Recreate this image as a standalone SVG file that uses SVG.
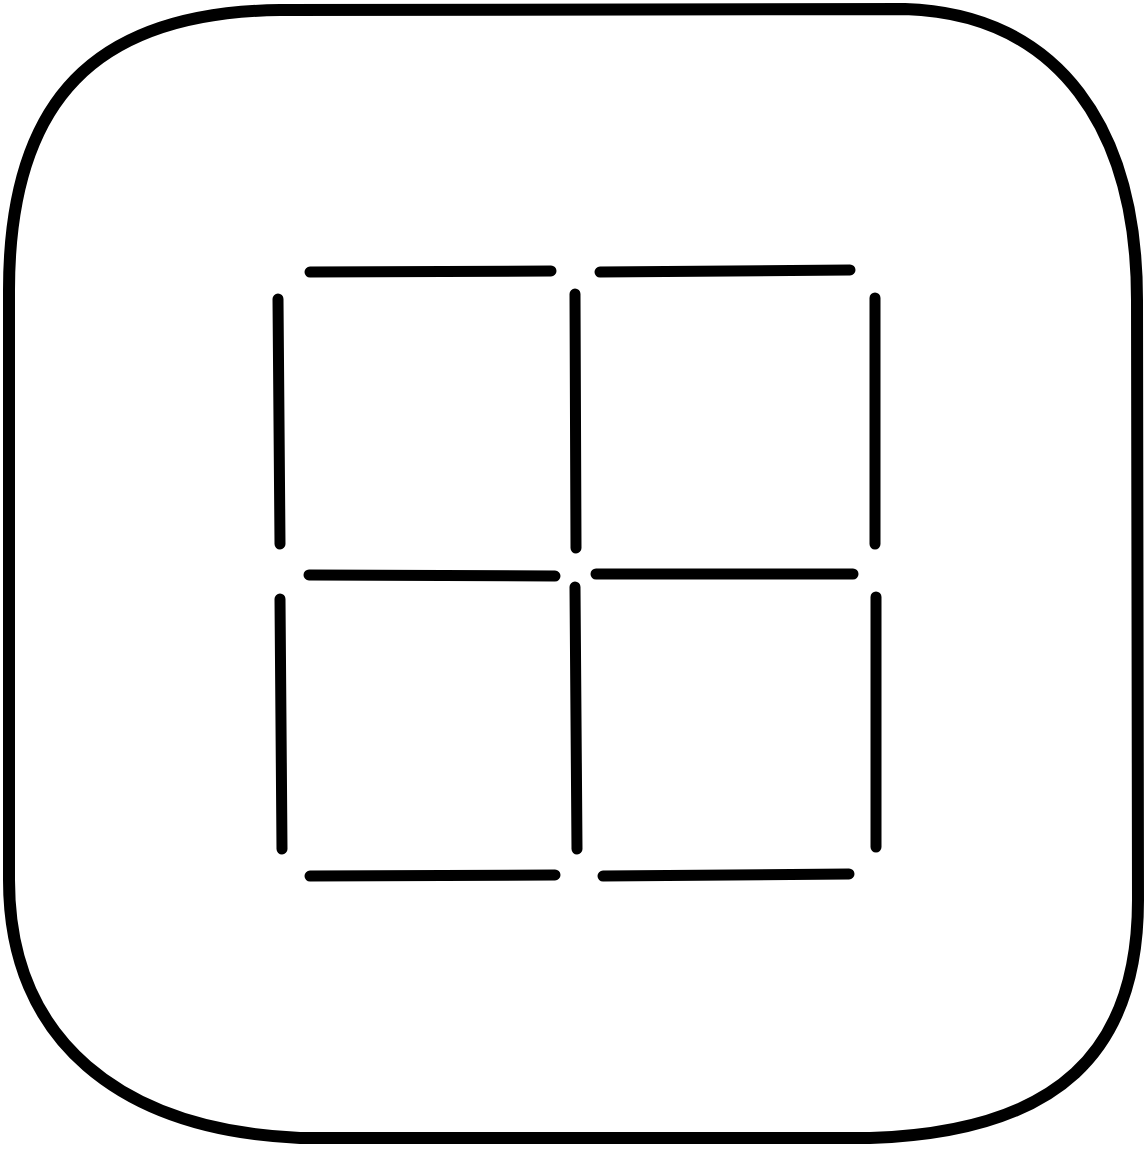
<svg xmlns="http://www.w3.org/2000/svg" width="1145" height="1153" viewBox="0 0 1145 1153">
<style>
.frame{fill:none;stroke:#000;stroke-width:12;stroke-linejoin:round}
.stick{fill:none;stroke:#000;stroke-width:11;stroke-linecap:round}
</style>
<rect width="1145" height="1153" fill="#fff"/>
<g id="frame">
<path class="frame" d="M9,290 C9,100 95,12 280,10 L905,9 C1060,14 1137,130 1137,300 L1138,900 C1138,1050 1060,1132 870,1138 L300,1138 C120,1130 9,1040 9,880 Z"/>
</g>
<g id="sticks">
<line class="stick" x1="310" y1="272" x2="551" y2="271"/>
<line class="stick" x1="600" y1="272" x2="850" y2="270"/>
<line class="stick" x1="309" y1="575" x2="555" y2="576"/>
<line class="stick" x1="596" y1="574" x2="853" y2="574"/>
<line class="stick" x1="310" y1="876" x2="555" y2="875"/>
<line class="stick" x1="603" y1="876" x2="849" y2="874"/>
<line class="stick" x1="278" y1="299" x2="280" y2="544"/>
<line class="stick" x1="575" y1="294" x2="576" y2="548"/>
<line class="stick" x1="875" y1="298" x2="875" y2="544"/>
<line class="stick" x1="280" y1="599" x2="282" y2="849"/>
<line class="stick" x1="575" y1="587" x2="577" y2="849"/>
<line class="stick" x1="876" y1="597" x2="876" y2="847"/>
</g>
</svg>
